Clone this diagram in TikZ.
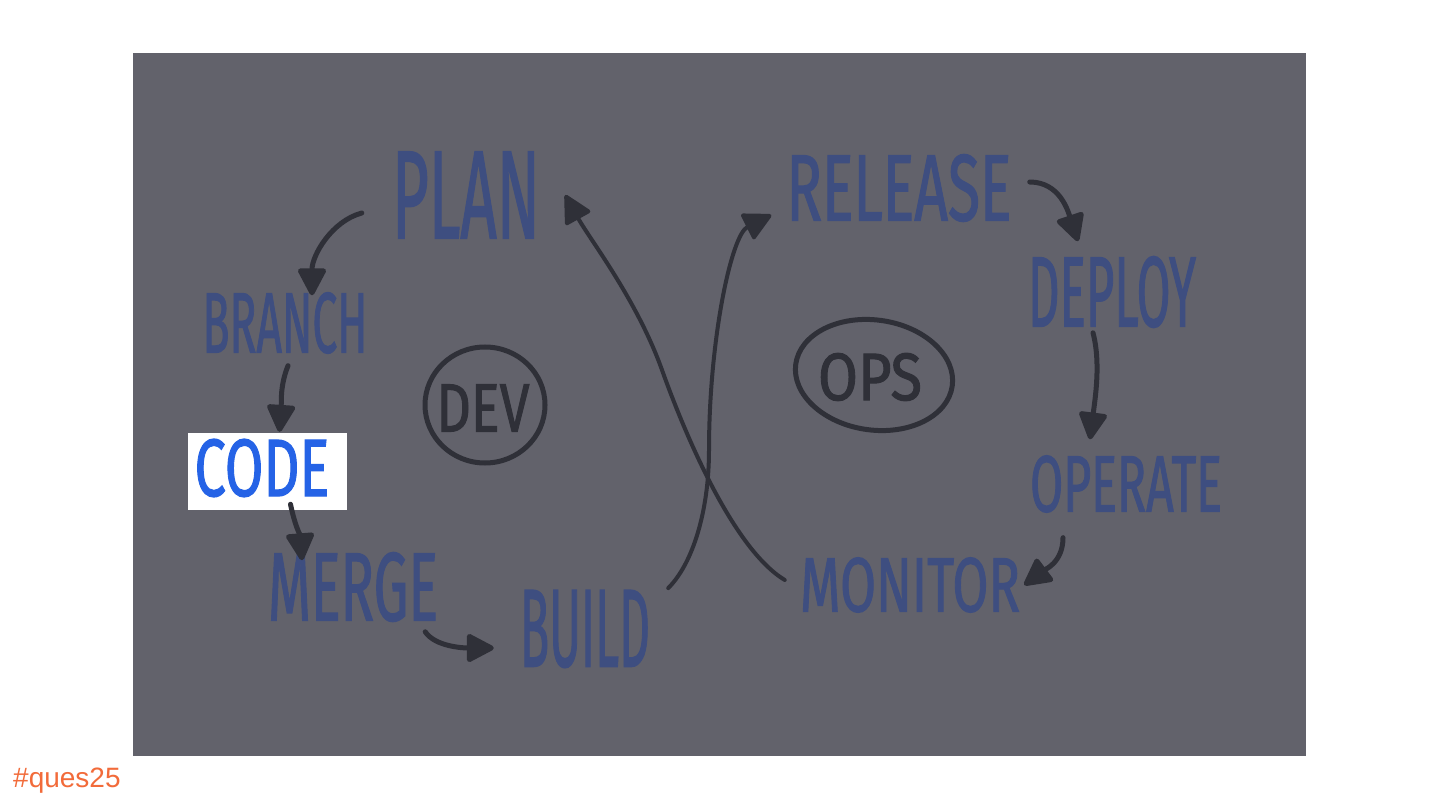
\documentclass[tikz,border=0pt]{standalone}
\usepackage{graphicx}
\usepackage{fontspec}
\setmainfont{Liberation Sans}
\newfontfamily\hand{Fira Sans}[FakeBold=1.6]
\usetikzlibrary{arrows.meta,calc}
\definecolor{bg}{HTML}{62626B}
\definecolor{ink}{HTML}{3E4E80}
\definecolor{pen}{HTML}{2F3038}
\definecolor{codeblue}{HTML}{2563E6}
\definecolor{tagorange}{HTML}{F26B3A}
\newcommand{\hw}[3]{\resizebox{#1pt}{#2pt}{\hand #3}}
\tikzset{
  lbl/.style={inner sep=0pt, text=ink, anchor=center},
  arr/.style={draw=pen, line width=5pt, line cap=round,
    -{Triangle[length=30pt,width=30pt,round]}},
  thinarr/.style={draw=pen, line width=4pt, line cap=round,
    -{Triangle[length=30pt,width=30pt,round]}},
}
\begin{document}
\begin{tikzpicture}[x=1pt,y=-1pt]
\useasboundingbox (0,0) rectangle (1440,810);
\fill[white] (0,0) rectangle (1440,810);
\fill[bg] (133,53) rectangle (1306,756);

% labels
\node[lbl] (plan) at (466,195) {\hw{148}{86}{PLAN}};
\node[lbl] (branch) at (285,323) {\hw{165}{60}{BRANCH}};
\node[fill=white, minimum width=159pt, minimum height=77pt, inner sep=0pt] (code) at (267.5,471.5) {};
\node[inner sep=0pt, text=codeblue] (codet) at (262,468) {\hw{135}{57}{CODE}};
\node[lbl] (merge) at (353,587) {\hw{170}{68}{MERGE}};
\node[lbl] (build) at (585,629) {\hw{130}{76}{BUILD}};
\node[lbl] (release) at (899,188) {\hw{225}{66}{RELEASE}};
\node[lbl] (deploy) at (1112,292) {\hw{168}{70}{DEPLOY}};
\node[lbl] (operate) at (1126,484) {\hw{192}{56}{OPERATE}};
\node[lbl] (monitor) at (910,585) {\hw{220}{54}{MONITOR}};

% circled group labels
\node[inner sep=0pt, text=pen] (devt) at (483,408) {\hw{93}{47}{DEV}};
\draw[pen, line width=5pt] (485,405) ellipse [x radius=60, y radius=58];
\node[inner sep=0pt, text=pen] (opst) at (870,377) {\hw{104}{47}{OPS}};
\draw[pen, line width=5pt, rotate around={-8:(874,375)}] (874,375) ellipse [x radius=79, y radius=55];

% connectors
\draw[arr] ([shift={(-30,18)}]plan.west) .. controls +(-30,8) and +(0,-40) .. ([shift={(27,3)}]branch.north);
\draw[arr] ([shift={(3,12)}]branch.south) .. controls +(-8,20) and +(2,-30) .. ([shift={(12,-1)}]code.north);
\draw[arr] ([shift={(23,-6)}]code.south) .. controls +(4,20) and +(-2,-25) .. ([shift={(-51,8)}]merge.north);
\draw[arr] ([shift={(-13,10)}]merge.south east) .. controls +(10,15) and +(-30,0) .. ([shift={(-26,19)}]build.west);
\draw[thinarr] ([shift={(18,-2)}]build.north east) .. controls +(25,-25) and +(0,60) .. (709,450) .. controls +(0,-110) and +(-40,20) .. ([shift={(-15,27)}]release.west);
\draw[thinarr] ([shift={(-15,-5)}]monitor.west) .. controls +(-50,-30) and +(25,70) .. (662,370) .. controls +(-25,-70) and +(25,45) .. ([shift={(25,0)}]plan.east);
\draw[arr] ([shift={(18,-6)}]release.east) .. controls +(30,0) and +(-10,-30) .. ([shift={(-34,-15)}]deploy.north);
\draw[arr] ([shift={(-19,5)}]deploy.south) .. controls +(8,30) and +(5,-40) .. ([shift={(-36,-16)}]operate.north);
\draw[arr] ([shift={(-63,25)}]operate.south) .. controls +(0,25) and +(20,-15) .. ([shift={(4,0)}]monitor.east);

% tag
\node[anchor=base west, inner sep=0pt, text=tagorange, font=\fontsize{28}{30}\selectfont] (tag) at (13,787) {\#ques25};
\end{tikzpicture}
\end{document}
